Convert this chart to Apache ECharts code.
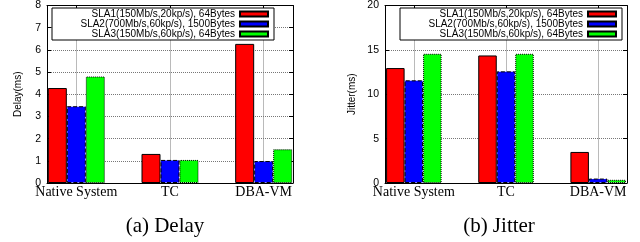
<!DOCTYPE html>
<html>
<head>
<meta charset="utf-8">
<script src="https://cdn.jsdelivr.net/npm/echarts@6/dist/echarts.min.js"></script>
<style>
  html, body { margin: 0; background: #fff; }
  #chart { width: 640px; height: 242px; }
</style>
</head>
<body>
<div id="chart"></div>
<script>
const categories = ['Native System', 'TC', 'DBA-VM']
const slaNames = [
  'SLA1(150Mb/s,20kp/s), 64Bytes',
  'SLA2(700Mb/s,60kp/s), 1500Bytes',
  'SLA3(150Mb/s,60kp/s), 64Bytes',
]
const delaySla1 = [4.28, 1.31, 6.27]
const delaySla2 = [3.46, 1.04, 0.99]
const delaySla3 = [4.8, 1.04, 1.52]
const jitterSla1 = [12.95, 14.37, 3.5]
const jitterSla2 = [11.57, 12.58, 0.5]
const jitterSla3 = [14.56, 14.56, 0.36]

const colors = ['#ff0000', '#0000ff', '#00ff00']
const borderTypes = ['solid', 'dashed', 'dotted']
const sans = 'Liberation Sans'
const serif = 'Liberation Serif'

// one entry per sub-figure
const panels = [
  { caption: '(a) Delay', yName: 'Delay(ms)', max: 8, interval: 1, values: [delaySla1, delaySla2, delaySla3],
    left: 47, width: 246, nameGap: 24, captionX: 160, legendLeft: 52, barWidth: 19 },
  { caption: '(b) Jitter', yName: 'Jitter(ms)', max: 20, interval: 5, values: [jitterSla1, jitterSla2, jitterSla3],
    left: 385, width: 242, nameGap: 28, captionX: 494, legendLeft: 400, barWidth: 18.5 },
]

const frameLine = { show: true, onZero: false, lineStyle: { color: '#000', width: 1 } }
const gridLine = { show: true, lineStyle: { color: '#777', type: 'dotted', width: 1 } }
const catTicks = [0, 1, 2]

function getOptions() {
  const grid = [], xAxis = [], yAxis = [], series = [], legend = [], title = []
  panels.forEach((p, k) => {
    grid.push({ left: p.left, top: 5, width: p.width, height: 178, containLabel: false })
    xAxis.push({
      type: 'value', gridIndex: k, min: -0.313, max: 2.313, position: 'bottom',
      axisLine: frameLine,
      axisTick: { show: true, inside: true, length: 4, customValues: catTicks, lineStyle: { color: '#000' } },
      axisLabel: {
        customValues: catTicks, margin: 2, color: '#000', fontFamily: serif, fontSize: 14,
        formatter: (v) => categories[Math.round(v)],
      },
      splitLine: gridLine,
    })
    xAxis.push({
      type: 'value', gridIndex: k, min: -0.313, max: 2.313, position: 'top',
      axisLine: frameLine,
      axisTick: { show: true, inside: true, length: 4, customValues: catTicks, lineStyle: { color: '#000' } },
      axisLabel: { show: false },
      splitLine: { show: false },
    })
    yAxis.push({
      type: 'value', gridIndex: k, min: 0, max: p.max, interval: p.interval, position: 'left',
      name: p.yName, nameLocation: 'middle', nameGap: p.nameGap, nameRotate: 90,
      nameTextStyle: { fontFamily: sans, fontSize: 10, color: '#000' },
      axisLine: frameLine,
      axisTick: { show: true, inside: true, length: 4, lineStyle: { color: '#000' } },
      axisLabel: { margin: 6, color: '#000', fontFamily: sans, fontSize: 10.5 },
      splitLine: gridLine,
    })
    yAxis.push({
      type: 'value', gridIndex: k, min: 0, max: p.max, interval: p.interval, position: 'right',
      axisLine: frameLine,
      axisTick: { show: true, inside: true, length: 4, lineStyle: { color: '#000' } },
      axisLabel: { show: false },
      splitLine: { show: false },
    })
    p.values.forEach((vals, i) => {
      series.push({
        type: 'bar', name: slaNames[i], xAxisIndex: 2 * k, yAxisIndex: 2 * k,
        data: vals.map((v, j) => [j, v]),
        barWidth: p.barWidth, barGap: '0%',
        itemStyle: { color: colors[i], borderColor: '#000', borderWidth: 1, borderType: borderTypes[i] },
      })
    })
    legend.push({
      data: slaNames, orient: 'vertical', align: 'right', icon: 'rect',
      left: p.legendLeft, top: 8, padding: [1, 5, 1, 5], itemGap: 0,
      itemWidth: 28, itemHeight: 5,
      backgroundColor: '#fff', borderColor: '#000', borderWidth: 1,
      selectedMode: false,
      textStyle: { fontFamily: sans, fontSize: 10, color: '#000', width: 178, align: 'right', lineHeight: 10 },
    })
    title.push({
      text: p.caption, left: p.captionX, top: 211, textAlign: 'center',
      textStyle: { fontFamily: serif, fontSize: 21, fontWeight: 'normal', color: '#000' },
    })
  })
  return { animation: false, grid, xAxis, yAxis, series, legend, title }
}

const chart = echarts.init(document.getElementById('chart'), null, { renderer: 'canvas' })
chart.setOption(getOptions())
</script>
</body>
</html>
